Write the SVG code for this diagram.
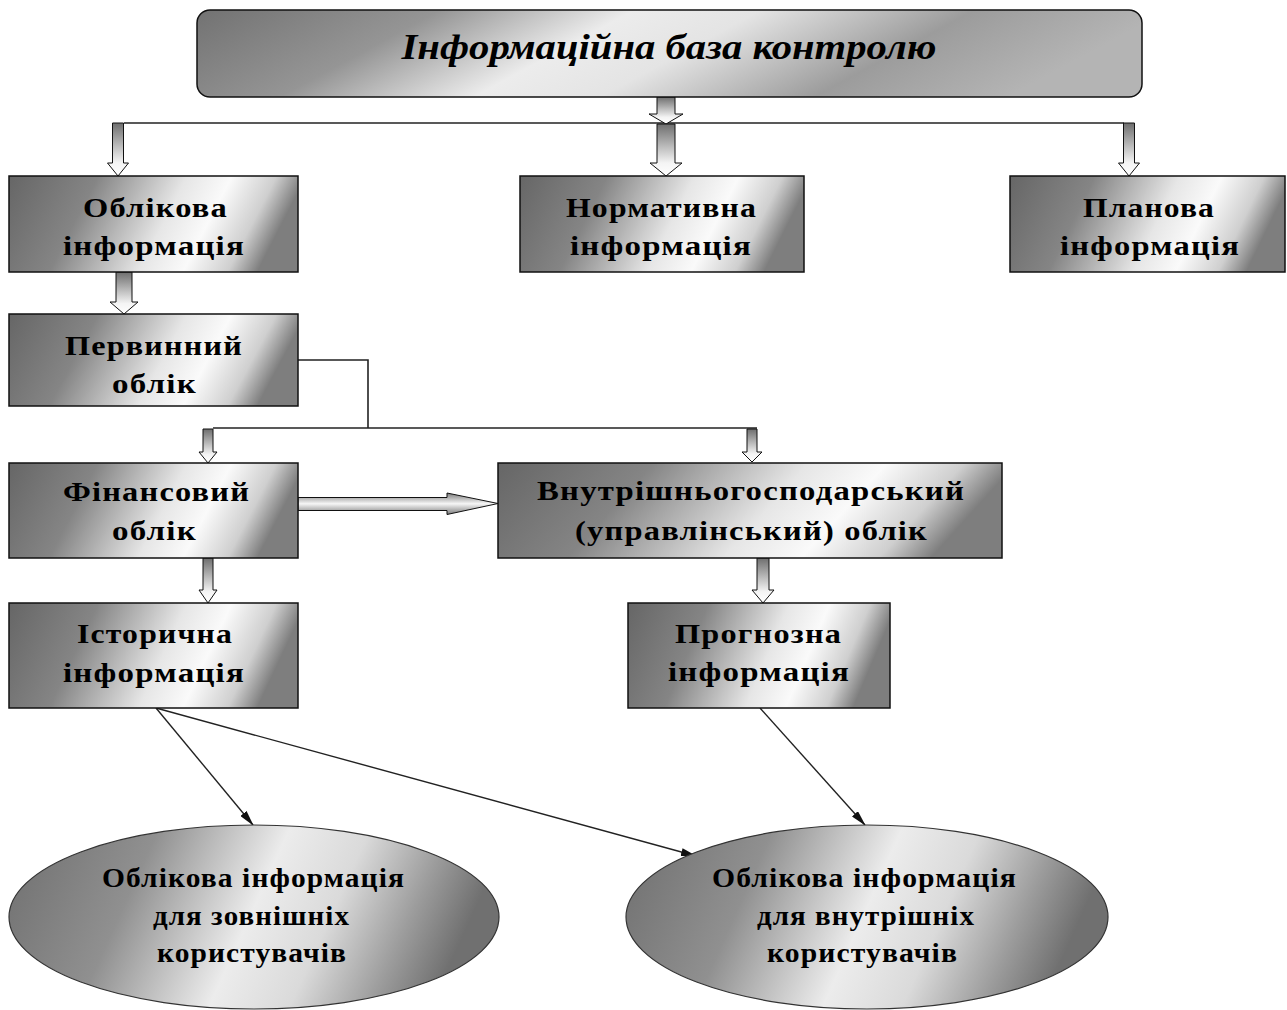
<svg xmlns="http://www.w3.org/2000/svg" width="1287" height="1010" viewBox="0 0 1287 1010">
<style>
.t{font-family:"Liberation Serif","Times New Roman",serif;font-weight:bold;font-size:27px;letter-spacing:1px;fill:#000;text-anchor:middle}
.ti{font-family:"Liberation Serif","Times New Roman",serif;font-weight:bold;font-style:italic;font-size:36px;fill:#000;text-anchor:middle}
.box{fill:url(#boxGrad);stroke:#111;stroke-width:1.5}
.ell{fill:url(#ellGrad);stroke:#333;stroke-width:1.2}
.va{fill:url(#vArrow);stroke:#111;stroke-width:1}
.ha{fill:url(#hArrow);stroke:#111;stroke-width:1}
.ln{fill:none;stroke:#222;stroke-width:1.6}
.dl{fill:none;stroke:#222;stroke-width:1.4;marker-end:url(#ah)}
</style>
<defs>
<linearGradient id="boxGrad" x1="0" y1="0" x2="1" y2="0.17">
<stop offset="0" stop-color="#666666"/>
<stop offset="0.3" stop-color="#858585"/>
<stop offset="0.6" stop-color="#e6e6e6"/>
<stop offset="0.75" stop-color="#fafafa"/>
<stop offset="0.9" stop-color="#cfcfcf"/>
<stop offset="1" stop-color="#7e7e7e"/>
</linearGradient>
<linearGradient id="ellGrad" x1="0" y1="0" x2="1" y2="0.17">
<stop offset="0" stop-color="#6e6e6e"/>
<stop offset="0.3" stop-color="#909090"/>
<stop offset="0.56" stop-color="#ececec"/>
<stop offset="0.72" stop-color="#dadada"/>
<stop offset="0.88" stop-color="#9c9c9c"/>
<stop offset="1" stop-color="#707070"/>
</linearGradient>
<linearGradient id="topGrad" x1="0" y1="0" x2="1" y2="0.17">
<stop offset="0" stop-color="#727272"/>
<stop offset="0.25" stop-color="#959595"/>
<stop offset="0.45" stop-color="#ececec"/>
<stop offset="0.58" stop-color="#e4e4e4"/>
<stop offset="0.8" stop-color="#9c9c9c"/>
<stop offset="1" stop-color="#b4b4b4"/>
</linearGradient>
<linearGradient id="vArrow" x1="0" y1="0" x2="0" y2="1">
<stop offset="0" stop-color="#6e6e6e"/>
<stop offset="0.75" stop-color="#f4f4f4"/>
<stop offset="1" stop-color="#ffffff"/>
</linearGradient>
<linearGradient id="hArrow" x1="0" y1="0" x2="0" y2="1">
<stop offset="0" stop-color="#7a7a7a"/>
<stop offset="0.5" stop-color="#f6f6f6"/>
<stop offset="1" stop-color="#7a7a7a"/>
</linearGradient>
<marker id="ah" viewBox="0 0 16 8" markerWidth="16" markerHeight="8" refX="15" refY="4" orient="auto" markerUnits="userSpaceOnUse">
<path d="M0,0 L16,4 L0,8 z" fill="#111"/>
</marker>
</defs>
<rect width="1287" height="1010" fill="#fff"/>

<g id="connectors">
<line class="ln" x1="124" y1="123" x2="1124" y2="123"/>
<polyline class="ln" points="298,360 368,360 368,428"/>
<line class="ln" x1="213" y1="428" x2="757" y2="428"/>
<polygon class="va" points="112.5,123 123.5,123 123.5,163 128.5,163 118,176 107.5,163 112.5,163"/>
<polygon class="va" points="657,97 675,97 675,114 683,114 666,124 649,114 657,114"/>
<polygon class="va" points="657,124 675,124 675,163 682,163 666,176 650,163 657,163"/>
<polygon class="va" points="1123.5,123 1134.5,123 1134.5,163 1139.5,163 1129,176 1118.5,163 1123.5,163"/>
<polygon class="va" points="116,272 132,272 132,302 138,302 124,314 110,302 116,302"/>
<polygon class="va" points="203,429 213,429 213,452 217,452 208,463 199,452 203,452"/>
<polygon class="va" points="747,429 757,429 757,452 762,452 752,462 742,452 747,452"/>
<polygon class="va" points="203,558 213,558 213,590 217,590 208,603 199,590 203,590"/>
<polygon class="va" points="757,558 769,558 769,590 774,590 763,603 752,590 757,590"/>
<polygon class="ha" points="298,497.5 447,497.5 447,493 498,503.5 447,514.5 447,510.5 298,510.5"/>
<line class="dl" x1="156" y1="708" x2="253" y2="825"/>
<line class="dl" x1="156" y1="708" x2="696" y2="856"/>
<line class="dl" x1="760" y1="708" x2="865" y2="825"/>
</g>

<g id="n-top">
<rect x="197" y="10" width="945" height="87" rx="13" ry="13" fill="url(#topGrad)" stroke="#111" stroke-width="1.5"/>
<text class="ti" x="669" y="59" textLength="535" lengthAdjust="spacingAndGlyphs">Інформаційна база контролю</text>
</g>

<g id="n-oblikova">
<rect class="box" x="9" y="176" width="289" height="96"/>
<text class="t" x="155.5" y="217" textLength="145" lengthAdjust="spacingAndGlyphs">Облікова</text>
<text class="t" x="154" y="255" textLength="182" lengthAdjust="spacingAndGlyphs">інформація</text>
</g>

<g id="n-normatyvna">
<rect class="box" x="520" y="176" width="284" height="96"/>
<text class="t" x="661.5" y="217" textLength="191" lengthAdjust="spacingAndGlyphs">Нормативна</text>
<text class="t" x="661" y="255" textLength="182" lengthAdjust="spacingAndGlyphs">інформація</text>
</g>

<g id="n-planova">
<rect class="box" x="1010" y="176" width="275" height="96"/>
<text class="t" x="1149" y="217" textLength="132" lengthAdjust="spacingAndGlyphs">Планова</text>
<text class="t" x="1150" y="255" textLength="180" lengthAdjust="spacingAndGlyphs">інформація</text>
</g>

<g id="n-pervynnyi">
<rect class="box" x="9" y="314" width="289" height="92"/>
<text class="t" x="154" y="355" textLength="178" lengthAdjust="spacingAndGlyphs">Первинний</text>
<text class="t" x="154.5" y="393" textLength="85" lengthAdjust="spacingAndGlyphs">облік</text>
</g>

<g id="n-finansovyi">
<rect class="box" x="9" y="463" width="289" height="95"/>
<text class="t" x="156.5" y="501" textLength="187" lengthAdjust="spacingAndGlyphs">Фінансовий</text>
<text class="t" x="154.5" y="540" textLength="85" lengthAdjust="spacingAndGlyphs">облік</text>
</g>

<g id="n-vnutr">
<rect class="box" x="498" y="463" width="504" height="95"/>
<text class="t" x="751" y="500" textLength="428" lengthAdjust="spacingAndGlyphs">Внутрішньогосподарський</text>
<text class="t" x="751.5" y="540" textLength="353" lengthAdjust="spacingAndGlyphs">(управлінський) облік</text>
</g>

<g id="n-istorychna">
<rect class="box" x="9" y="603" width="289" height="105"/>
<text class="t" x="155" y="643" textLength="156" lengthAdjust="spacingAndGlyphs">Історична</text>
<text class="t" x="154" y="682" textLength="182" lengthAdjust="spacingAndGlyphs">інформація</text>
</g>

<g id="n-prohnozna">
<rect class="box" x="628" y="603" width="262" height="105"/>
<text class="t" x="758.5" y="643" textLength="167" lengthAdjust="spacingAndGlyphs">Прогнозна</text>
<text class="t" x="759" y="681" textLength="182" lengthAdjust="spacingAndGlyphs">інформація</text>
</g>

<g id="n-external">
<ellipse class="ell" cx="254" cy="917" rx="245" ry="92"/>
<text class="t" x="253.5" y="887" textLength="303" lengthAdjust="spacingAndGlyphs">Облікова інформація</text>
<text class="t" x="251.5" y="925" textLength="197" lengthAdjust="spacingAndGlyphs">для зовнішніх</text>
<text class="t" x="252" y="962" textLength="190" lengthAdjust="spacingAndGlyphs">користувачів</text>
</g>

<g id="n-internal">
<ellipse class="ell" cx="867" cy="917" rx="241" ry="92"/>
<text class="t" x="864.5" y="887" textLength="305" lengthAdjust="spacingAndGlyphs">Облікова інформація</text>
<text class="t" x="866" y="925" textLength="218" lengthAdjust="spacingAndGlyphs">для внутрішніх</text>
<text class="t" x="862.5" y="962" textLength="191" lengthAdjust="spacingAndGlyphs">користувачів</text>
</g>
</svg>
